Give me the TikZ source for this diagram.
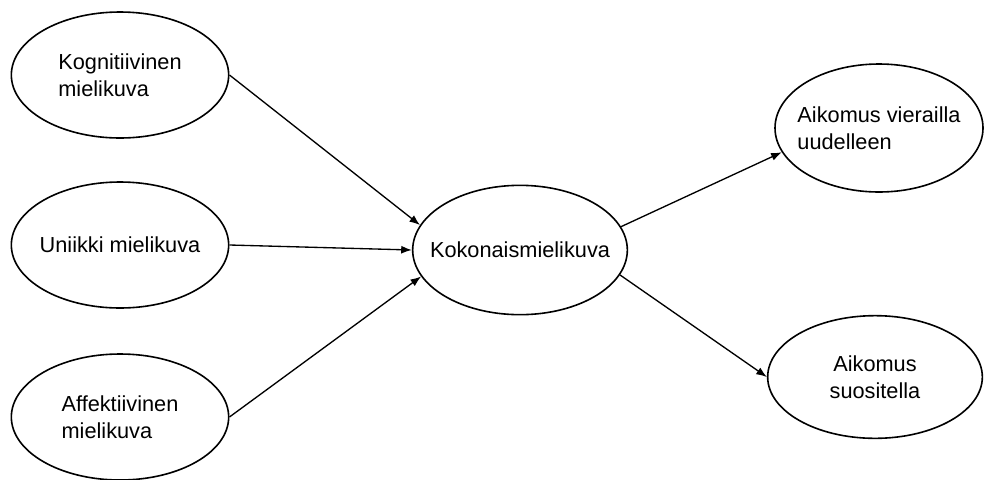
\documentclass[tikz,border=0pt]{standalone}
\usepackage{fontspec}
\setmainfont{Liberation Sans}
\usetikzlibrary{shapes.geometric,arrows.meta}

\begin{document}
\begin{tikzpicture}[x=0.75pt,y=-0.75pt]
\tikzstyle{every node}=[draw,shape=ellipse,line width=1.2pt,inner ysep=0pt,inner xsep=-12pt,minimum width=163pt,minimum height=94.5pt,font=\fontsize{16.3}{20}\selectfont];
\tikzstyle{link}=[-{Latex[length=8pt,width=6pt]},line width=1pt];
\useasboundingbox (0,0) rectangle (984,479);

% three kinds of image on the left
\node (kog) at (120,75) [align=left] {Kognitiivinen\\mielikuva};
\node (uni) at (120,245) {Uniikki mielikuva};
\node (aff) at (120,417) [align=left] {Affektiivinen\\mielikuva};

% overall image in the middle
\node (koko) at (520,250) [minimum width=161pt,minimum height=97pt] {Kokonaismielikuva};

% intentions on the right
\node (vier) at (879,128) [align=left,minimum width=156pt,minimum height=96pt] {Aikomus vierailla\\uudelleen};
\node (suos) at (875,377) [align=center,minimum width=161pt,minimum height=92pt] {Aikomus\\suositella};

\draw[link] (kog.east) -- (koko.166);
\draw[link] (uni.east) -- (koko.west);
\draw[link] (aff.east) -- (koko.195);
\draw[link] (koko.13) -- (vier.194);
\draw[link] (koko.346) -- (suos.west);
\end{tikzpicture}
\end{document}
